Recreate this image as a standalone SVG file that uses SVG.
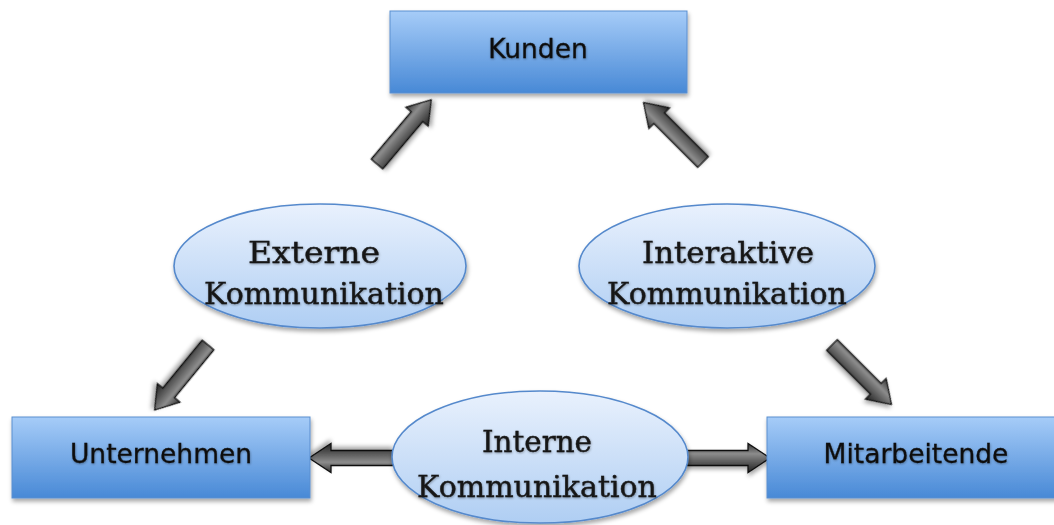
<svg xmlns="http://www.w3.org/2000/svg" xmlns:xlink="http://www.w3.org/1999/xlink" width="1054" height="525" viewBox="0 0 1054 525">
  <defs>
    <linearGradient id="boxGrad" x1="0" y1="0" x2="0" y2="1">
      <stop offset="0" stop-color="#a6ccf8"/>
      <stop offset="1" stop-color="#4889d6"/>
    </linearGradient>
    <linearGradient id="ellGrad" x1="0" y1="0" x2="0" y2="1">
      <stop offset="0" stop-color="#e9f1fd"/>
      <stop offset="1" stop-color="#afcef3"/>
    </linearGradient>
    <linearGradient id="arrGrad" gradientUnits="userSpaceOnUse" x1="0" y1="-14" x2="0" y2="14">
      <stop offset="0" stop-color="#3a3a3a"/>
      <stop offset="0.35" stop-color="#8c8c8c"/>
      <stop offset="0.65" stop-color="#5a5a5a"/>
      <stop offset="1" stop-color="#262626"/>
    </linearGradient>
    <filter id="shadow" x="-10%" y="-10%" width="130%" height="140%">
      <feDropShadow dx="1" dy="3" stdDeviation="2" flood-color="#000" flood-opacity="0.35"/>
    </filter>
    <filter id="tshadow" x="-5%" y="-20%" width="110%" height="150%">
      <feDropShadow dx="0.5" dy="1" stdDeviation="0.8" flood-color="#000" flood-opacity="0.35"/>
    </filter>
    <path id="arr" d="M0,-7.5 H62 V-14.5 L84,0 L62,14.5 V7.5 H0 Z"/>
  </defs>
  <style>
    .box { fill: url(#boxGrad); stroke: #5a8fd0; stroke-width: 1; filter: url(#shadow); }
    .ell { fill: url(#ellGrad); stroke: #5589cc; stroke-width: 1.6; filter: url(#shadow); }
    .arrow { fill: url(#arrGrad); stroke: #111; stroke-width: 1.3; stroke-linejoin: miter; filter: url(#shadow); }
    .sans { font-family: "DejaVu Sans", "Liberation Sans", sans-serif; font-size: 26.5px; fill: #111; stroke: #111; stroke-width: 0.3; text-anchor: middle; filter: url(#tshadow); }
    .serif { font-family: "DejaVu Serif", "Liberation Serif", serif; font-size: 30px; fill: #161616; stroke: #161616; stroke-width: 0.4; text-anchor: middle; filter: url(#tshadow); }
  </style>

  <g id="connectors">
    <use xlink:href="#arr" class="arrow" transform="translate(377,164) rotate(-49.8)"/>
    <use xlink:href="#arr" class="arrow" transform="translate(703,162) rotate(-135)"/>
    <use xlink:href="#arr" class="arrow" transform="translate(208,345) rotate(129.4)"/>
    <use xlink:href="#arr" class="arrow" transform="translate(832,345) rotate(45)"/>
    <use xlink:href="#arr" class="arrow" transform="translate(393,458) rotate(180)"/>
    <use xlink:href="#arr" class="arrow" transform="translate(686,458)"/>
  </g>

  <g id="kunden">
    <rect class="box" x="390" y="11" width="297" height="82"/>
    <text class="sans" x="538" y="58">Kunden</text>
  </g>

  <g id="unternehmen">
    <rect class="box" x="12" y="417" width="298" height="81"/>
    <text class="sans" x="161" y="463">Unternehmen</text>
  </g>

  <g id="mitarbeitende">
    <rect class="box" x="767" y="417" width="298" height="81"/>
    <text class="sans" x="916" y="463">Mitarbeitende</text>
  </g>

  <g id="externe">
    <ellipse class="ell" cx="320" cy="266" rx="146" ry="62"/>
    <text class="serif" x="314" y="263" textLength="132" lengthAdjust="spacingAndGlyphs">Externe</text>
    <text class="serif" x="324" y="304">Kommunikation</text>
  </g>

  <g id="interaktive">
    <ellipse class="ell" cx="727" cy="266" rx="148" ry="62"/>
    <text class="serif" x="728" y="263" textLength="172" lengthAdjust="spacingAndGlyphs">Interaktive</text>
    <text class="serif" x="727" y="304">Kommunikation</text>
  </g>

  <g id="interne">
    <ellipse class="ell" cx="540" cy="457" rx="148" ry="66"/>
    <text class="serif" x="537" y="452" textLength="110" lengthAdjust="spacingAndGlyphs">Interne</text>
    <text class="serif" x="537" y="497">Kommunikation</text>
  </g>
</svg>
